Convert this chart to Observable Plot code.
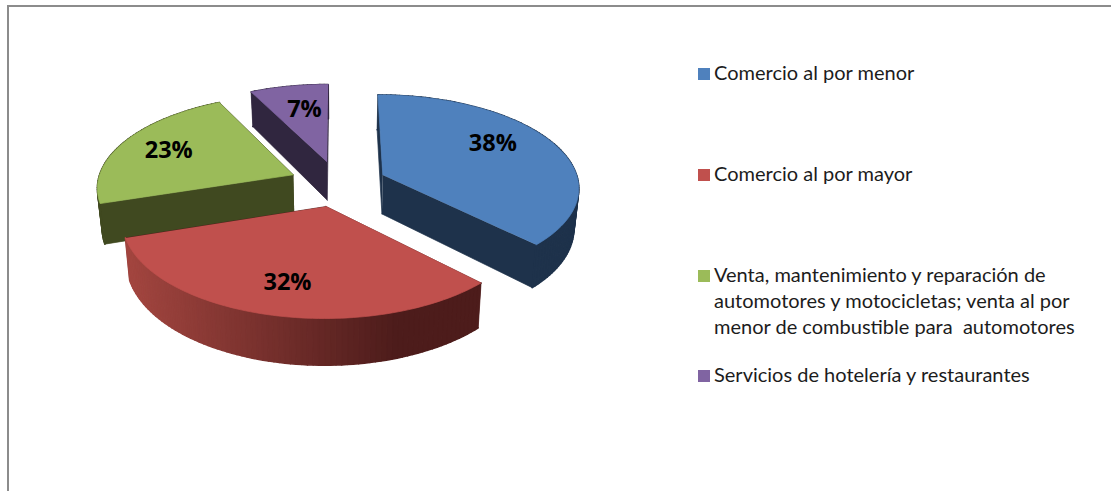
<!DOCTYPE html>
<html>
<head>
<meta charset="utf-8">
<script src="https://cdn.jsdelivr.net/npm/d3@7"></script>
<script src="https://cdn.jsdelivr.net/npm/@observablehq/plot@0.6"></script>
<style>
  html, body { margin: 0; padding: 0; background: #fff; }
  #frame { position: relative; width: 1111px; height: 491px; overflow: hidden; }
  #frame::before { content: ""; position: absolute; left: 7px; top: 5px; right: 0; bottom: 0;
    border-left: 2px solid #8c8c8c; border-top: 2px solid #8c8c8c; }
  #legend { position: absolute; left: 698px; top: 59px; font: 20px/26px Lato, sans-serif; color: #1c1c1c; }
  .item { position: relative; height: 100.8px; padding-left: 16px; width: 386px; box-sizing: border-box; }
  .item i { position: absolute; left: 0; top: 9px; width: 12px; height: 12px; }
</style>
</head>
<body>
<div id="frame"><div id="chart"></div><div id="legend"></div></div>
<script>
const categories = [
  "Comercio al por menor",
  "Comercio al por mayor",
  "Venta, mantenimiento y reparación de automotores y motocicletas; venta al por menor de combustible para\u00a0 automotores",
  "Servicios de hotelería y restaurantes"
];
const values = [37.6, 32.4, 22.6, 7.4];
const labels = ["38%", "32%", "23%", "7%"];
const topColors = ["#4f81bd", "#c0504d", "#9bbb59", "#8064a2"];
const cutColors = ["#1e324b", "#4f1d1b", "#404920", "#30263f"];
const wallNear = ["#1e324b", "#a2453f", "#404920", "#30263f"];
const wallFar = ["#1e324b", "#4d1c1b", "#404920", "#30263f"];

// Pie model: a disc seen in perspective, each slice pulled out along its bisector.
const W = 1111, H = 491;
const cx = 337.5, cy = 183, Rx = 196, Ry = 91.9, persp = 0.124, explode = 0.25, depth = 39.5, shrink = 0.98;
const labelRadius = 0.73, labelNudge = [[-15, -7], [1, 0], [0, 0], [6, 4]];

const arcs = d3.pie().sort(null).startAngle(0).endAngle(2 * Math.PI)(values);
const project = (u, v, low) => {
  const w = 1 - persp * v;
  const X = cx + Rx * u / w, Y = cy + Ry * v / w;
  return low ? {x: cx + (X - cx) * shrink, y: Y + depth / w, v} : {x: X, y: Y, v};
};

const faces = [];
const order = [3, 2, 0, 1];
for (const i of order) {
  const a = arcs[i], mid = (a.startAngle + a.endAngle) / 2;
  const ox = explode * Math.sin(mid), oy = -explode * Math.cos(mid);
  const rim = (t, low) => project(ox + Math.sin(t), oy - Math.cos(t), low);
  const apex = low => project(ox, oy, low);
  const steps = Math.round((a.endAngle - a.startAngle) / 0.025);
  const angles = d3.range(steps + 1).map(k => a.startAngle + (a.endAngle - a.startAngle) * k / steps);
  const shade = d3.interpolateRgb(wallNear[i], wallFar[i]);
  const walls = [
    {pts: [apex(false), rim(a.startAngle, false), rim(a.startAngle, true), apex(true)], color: cutColors[i], sw: 0.7},
    {pts: [apex(false), rim(a.endAngle, false), rim(a.endAngle, true), apex(true)], color: cutColors[i], sw: 0.7}
  ];
  for (let k = 0; k < steps; k++) {
    const p = rim(angles[k], false), q = rim(angles[k + 1], false);
    const t = Math.max(0, Math.min(1, ((p.x + q.x) / 2 - 130) / 265));
    walls.push({pts: [p, q, rim(angles[k + 1], true), rim(angles[k], true)], color: shade(t), sw: 1.6});
  }
  walls.sort((f, g) => d3.mean(f.pts, d => d.v) - d3.mean(g.pts, d => d.v));
  faces.push(...walls);
  faces.push({pts: [apex(false), ...angles.map(t => rim(t, false))], color: topColors[i], sw: 0.7});
}

const labelData = arcs.map((a, i) => {
  const mid = (a.startAngle + a.endAngle) / 2;
  const r = explode + labelRadius;
  const p = project(r * Math.sin(mid), -r * Math.cos(mid), false);
  return {x: p.x + labelNudge[i][0], y: p.y + labelNudge[i][1], text: labels[i]};
});

const plot = Plot.plot({
  width: W, height: H, margin: 0,
  x: {domain: [0, W], range: [0, W], axis: null},
  y: {domain: [0, H], range: [0, H], axis: null},
  style: {background: "transparent"},
  marks: [
    ...faces.map(f => Plot.line(f.pts, {x: "x", y: "y", fill: f.color, stroke: f.color, strokeWidth: f.sw, curve: "linear"})),
    Plot.text(labelData, {x: "x", y: "y", text: "text", fontSize: 23.5, fontWeight: 700,
      fontFamily: "'Open Sans', sans-serif", fill: "#000", textAnchor: "middle", lineAnchor: "middle"})
  ]
});
plot.style.position = "absolute";
plot.style.left = "0";
plot.style.top = "0";
document.getElementById("chart").appendChild(plot);

const legend = d3.select("#legend");
categories.forEach((c, i) => {
  const it = legend.append("div").attr("class", "item");
  it.append("i").style("background", topColors[i]);
  it.append("span").text(c);
});
</script>
</body>
</html>
